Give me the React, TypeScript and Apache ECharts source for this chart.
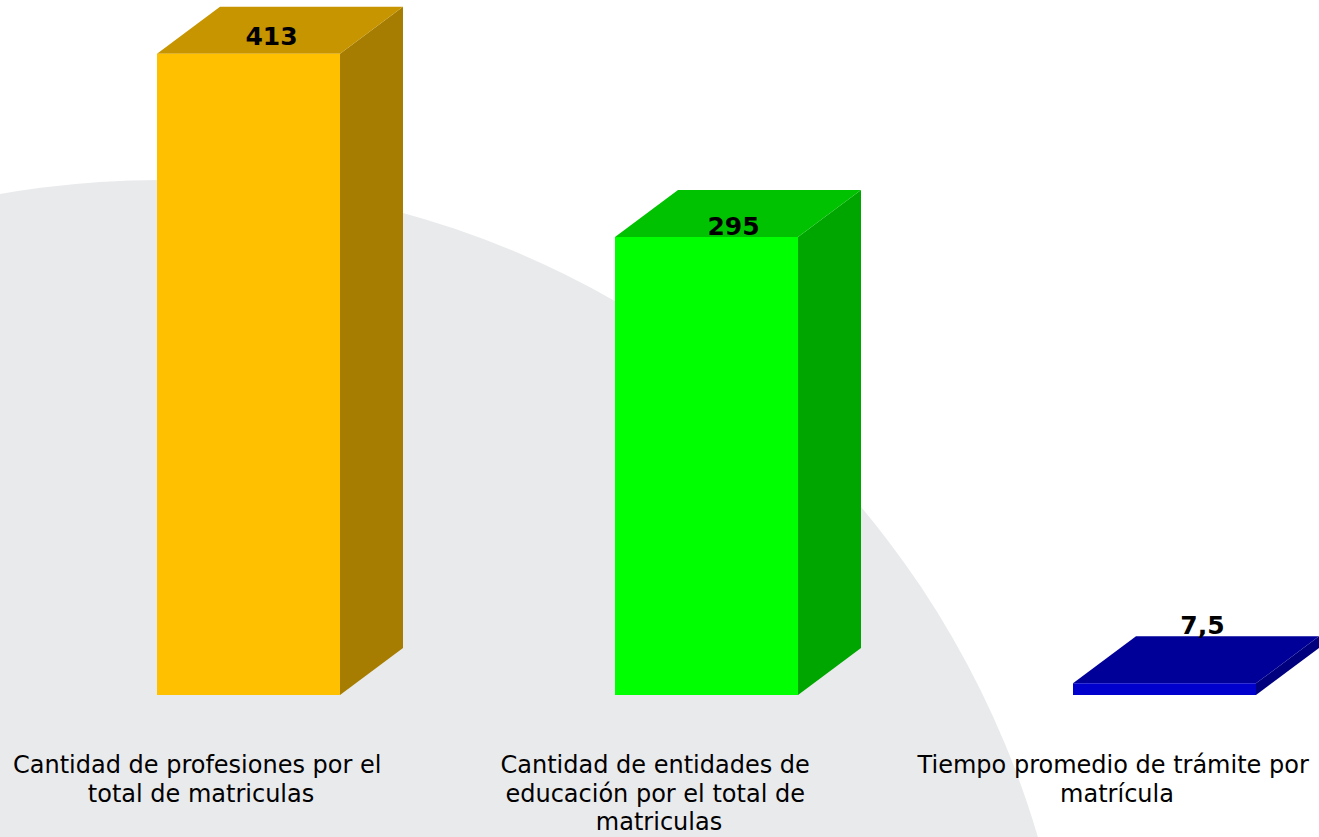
import React, { useEffect, useRef } from "react";
import * as echarts from "echarts";

const categories = [
  "Cantidad de profesiones por el total de matriculas",
  "Cantidad de entidades de educación por el total de matriculas",
  "Tiempo promedio de trámite por matrícula",
];
const values = [413, 295, 7.5];

const frontColors = ["#FFC000", "#00FF00", "#0000CC"];
const topColors = ["#C69500", "#00C200", "#000099"];
const sideColors = ["#A67D00", "#00A600", "#00007F"];
const labelDx = [23, 27, 38];
const labelDy = [-17, -11, -58];

export default function App() {
  const ref = useRef<HTMLDivElement>(null);
  useEffect(() => {
    if (!ref.current) return;
    const chart = echarts.init(ref.current, null, { renderer: "svg" });
    const option: any = {
      animation: false,
      backgroundColor: "#FFFFFF",
      graphic: [
        {
          type: "circle",
          z: -10,
          silent: true,
          shape: { cx: 160, cy: 1095, r: 915 },
          style: { fill: "#E9EAEC" },
        },
      ],
      grid: {
        left: -28,
        top: 43,
        width: 1374,
        height: 652,
        containLabel: false,
        outerBoundsMode: "none",
      },
      xAxis: {
        type: "category",
        data: categories,
        axisLine: { show: false },
        axisTick: { show: false },
        axisLabel: {
          interval: 0,
          margin: 56,
          fontFamily: "DejaVu Sans",
          fontSize: 24,
          lineHeight: 28.5,
          color: "#000000",
          width: 410,
          overflow: "break",
          align: "center",
        },
      },
      yAxis: { type: "value", min: 0, max: 420, show: false, splitLine: { show: false } },
      series: [
        {
          type: "custom",
          data: values.map((v, i) => [i, v]),
          encode: { x: 0, y: 1 },
          renderItem: (params: any, api: any) => {
            const idx = api.value(0);
            const val = api.value(1);
            const top = api.coord([idx, val]);
            const base = api.coord([idx, 0]);
            const band = api.size([1, 0])[0];
            const k = band / 458;
            const x0 = top[0] - 44 * k;
            const w = 183 * k;
            const dx = 63 * k;
            const dy = 47 * k;
            const yT = top[1];
            const yB = base[1];
            const label = String(val).replace(".", ",");
            return {
              type: "group",
              children: [
                {
                  type: "polygon",
                  shape: { points: [[x0 + w, yT], [x0 + w + dx, yT - dy], [x0 + w + dx, yB - dy], [x0 + w, yB]] },
                  style: { fill: sideColors[idx] },
                },
                {
                  type: "polygon",
                  shape: { points: [[x0, yT], [x0 + dx, yT - dy], [x0 + w + dx, yT - dy], [x0 + w, yT]] },
                  style: { fill: topColors[idx] },
                },
                {
                  type: "rect",
                  shape: { x: x0, y: yT, width: w, height: yB - yT },
                  style: { fill: frontColors[idx] },
                },
                {
                  type: "text",
                  z2: 10,
                  style: {
                    text: label,
                    x: x0 + w / 2 + labelDx[idx],
                    y: yT + labelDy[idx],
                    align: "center",
                    verticalAlign: "middle",
                    fontFamily: "DejaVu Sans",
                    fontWeight: "bold",
                    fontSize: 25,
                    fill: "#000000",
                  },
                },
              ],
            };
          },
        },
      ],
    };
    chart.setOption(option);
    return () => chart.dispose();
  }, []);
  return (
    <div
      ref={ref}
      style={{ position: "absolute", left: 0, top: 0, width: 1319, height: 837 }}
    />
  );
}
